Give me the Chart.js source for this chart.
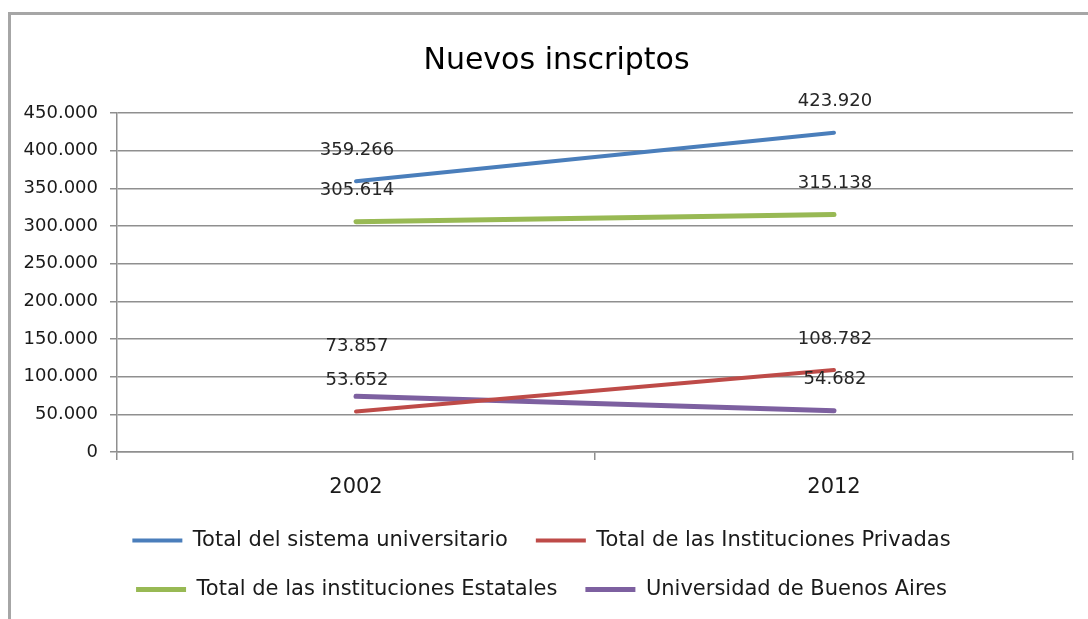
<!DOCTYPE html>
<html>
<head>
<meta charset="utf-8">
<script src="https://cdn.jsdelivr.net/npm/chart.js@4.4.0/dist/chart.umd.min.js"></script>
<style>
  html, body { margin: 0; padding: 0; background: #fff; }
  #wrap { position: relative; width: 1088px; height: 619px; overflow: hidden; }
  #frame { position: absolute; left: 8px; top: 12px; width: 1200px; height: 700px;
           border-top: 3px solid #a6a6a6; border-left: 3px solid #a6a6a6; }
  canvas { position: absolute; left: 0; top: 0; }
</style>
</head>
<body>
<div id="wrap">
  <div id="frame"></div>
  <canvas id="chart" width="1088" height="619"></canvas>
</div>
<script>
// Data
const years = ['2002', '2012'];
const totalSistema = [359266, 423920];
const totalPrivadas = [53652, 108782];
const totalEstatales = [305614, 315138];
const uba = [73857, 54682];
const yTicksMax = 450000;
const yTicksStep = 50000;

const FONT = "'DejaVu Sans', sans-serif";
const GRID = '#8f8f8f';

// 359266 -> "359.266"
function fmt(v) {
  return String(v).replace(/\B(?=(\d{3})+(?!\d))/g, '.');
}

// draws the value above every point, pushing a label up when it would overlap another
const valueLabels = {
  id: 'valueLabels',
  afterDatasetsDraw(chart) {
    const ctx = chart.ctx;
    ctx.save();
    ctx.font = '18px ' + FONT;
    ctx.fillStyle = '#262626';
    ctx.textAlign = 'center';
    ctx.textBaseline = 'middle';
    const columns = {};
    chart.data.datasets.forEach((ds, i) => {
      const meta = chart.getDatasetMeta(i);
      meta.data.forEach((pt, j) => {
        (columns[j] = columns[j] || []).push({ text: fmt(ds.data[j]), x: pt.x + 1, y: pt.y - 31 });
      });
    });
    Object.values(columns).forEach(list => {
      list.sort((a, b) => b.y - a.y);
      for (let k = 1; k < list.length; k++) {
        if (list[k - 1].y - list[k].y < 34) list[k].y = list[k - 1].y - 34;
      }
      list.forEach(l => ctx.fillText(l.text, l.x, l.y));
    });
    ctx.restore();
  }
};

// the title sits a bit right of the canvas centre, like in the original
const titleShift = {
  id: 'titleShift',
  afterLayout(chart) {
    if (chart.titleBlock) chart.titleBlock.left = 40;
  }
};

const ctx = document.getElementById('chart').getContext('2d');
const chart = new Chart(ctx, {
  type: 'line',
  data: {
    labels: years,
    datasets: [{
      label: 'Total del sistema universitario',
      data: totalSistema,
      borderColor: '#4a7ebb',
      backgroundColor: '#4a7ebb',
      borderWidth: 4
    },
    {
      label: 'Total de las Instituciones Privadas',
      data: totalPrivadas,
      borderColor: '#be4b48',
      backgroundColor: '#be4b48',
      borderWidth: 4
    },
    {
      label: 'Total de las instituciones Estatales',
      data: totalEstatales,
      borderColor: '#98b954',
      backgroundColor: '#98b954',
      borderWidth: 5
    },
    {
      label: 'Universidad de Buenos Aires',
      data: uba,
      borderColor: '#7d60a0',
      backgroundColor: '#7d60a0',
      borderWidth: 5
    }]
  },
  options: {
    responsive: false,
    animation: false,
    elements: { point: { radius: 0, hoverRadius: 0 }, line: { tension: 0, borderCapStyle: 'round' } },
    layout: { padding: { left: 10, right: 15, top: 0, bottom: 9 } },
    plugins: {
      tooltip: { enabled: false },
      title: {
        display: true,
        text: 'Nuevos inscriptos',
        color: '#000',
        font: { family: FONT, size: 30, weight: 'normal' },
        padding: { top: 43, bottom: 34 }
      },
      legend: {
        position: 'bottom',
        labels: {
          usePointStyle: true,
          pointStyle: 'line',
          pointStyleWidth: 50,
          padding: 28,
          color: '#1a1a1a',
          font: { family: FONT, size: 21 }
        }
      }
    },
    scales: {
      x: {
        offset: true,
        afterFit(scale) { scale.height = 50; },
        grid: { display: true, offset: true, drawOnChartArea: false, color: GRID, lineWidth: 1.5, tickLength: 8 },
        border: { color: GRID, width: 1.5 },
        ticks: { color: '#1a1a1a', padding: 15, font: { family: FONT, size: 21 } }
      },
      y: {
        min: 0,
        max: yTicksMax,
        afterFit(scale) { scale.width = 107; },
        grid: { color: GRID, lineWidth: 1.5, tickLength: 7 },
        border: { color: GRID, width: 1.5 },
        ticks: {
          stepSize: yTicksStep,
          color: '#1a1a1a',
          padding: 12,
          font: { family: FONT, size: 18 },
          callback: v => fmt(v)
        }
      }
    }
  },
  plugins: [valueLabels, titleShift]
});
</script>
</body>
</html>
